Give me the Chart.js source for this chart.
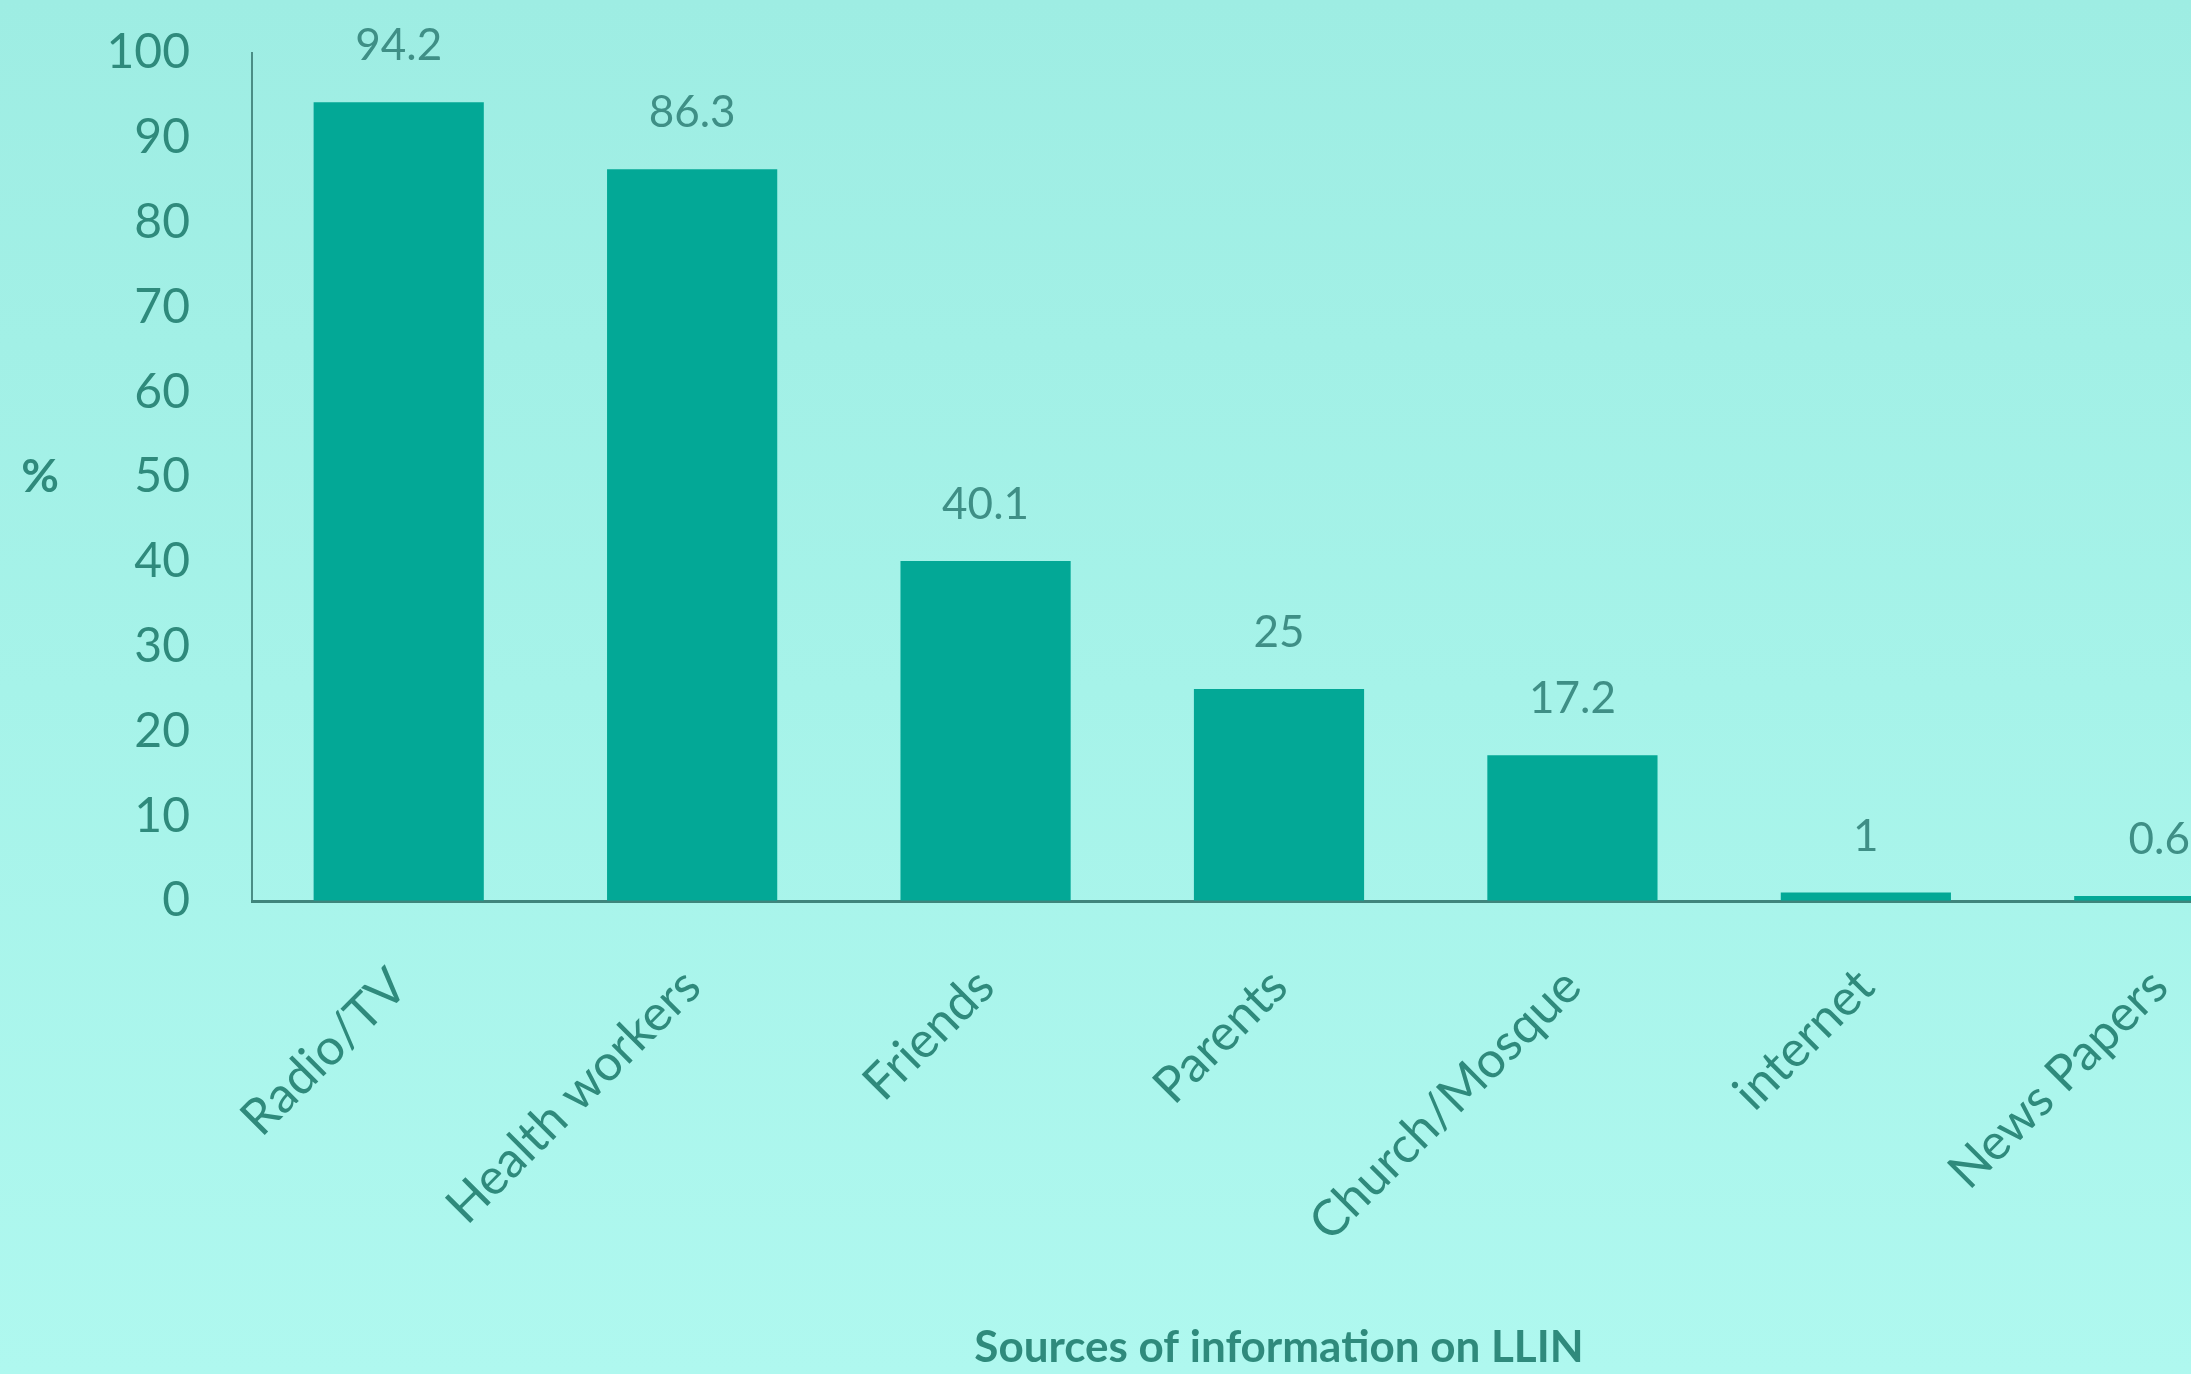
<!DOCTYPE html>
<html>
<head>
<meta charset="utf-8">
<script src="https://cdn.jsdelivr.net/npm/chart.js@4.4.1/dist/chart.umd.min.js"></script>
<style>
  html, body {
    margin: 0;
    padding: 0;
    overflow: hidden;
    width: 2191px;
    height: 1374px;
    background: linear-gradient(180deg, #9eede3 0%, #a6f3e9 50%, #aff8ef 100%);
  }
  canvas { display: block; }
</style>
</head>
<body>
<canvas id="fontesChart" width="2320" height="1374"></canvas>
<script>
// fontes de informação sobre LLIN (%)
const fontes = ['Radio/TV', 'Health workers', 'Friends', 'Parents', 'Church/Mosque', 'internet', 'News Papers'];
const percentuais = [94.2, 86.3, 40.1, 25, 17.2, 1, 0.6];
const ticksY = [0, 10, 20, 30, 40, 50, 60, 70, 80, 90, 100];

const corTexto = '#2f8a7c';
const corValor = '#3f8f86';
const fonte = "'Lato', 'Open Sans', sans-serif";

// valores em cima das barras + "%" ao lado do eixo y
const rotulosPlugin = {
    id: 'rotulos',
    afterDatasetsDraw(chart) {
        const ctx = chart.ctx;
        const meta = chart.getDatasetMeta(0);
        ctx.save();
        ctx.fillStyle = corValor;
        ctx.font = '44px ' + fonte;
        ctx.textAlign = 'center';
        ctx.textBaseline = 'alphabetic';
        meta.data.forEach((bar, i) => {
            ctx.fillText(String(percentuais[i]), bar.x, bar.y - 42);
        });
        const y = chart.scales.y;
        ctx.fillStyle = corTexto;
        ctx.font = 'bold 46px ' + fonte;
        ctx.textAlign = 'center';
        ctx.textBaseline = 'middle';
        ctx.fillText('%', 40, y.getPixelForValue(50));
        ctx.restore();
    }
};

new Chart(document.getElementById('fontesChart'), {
    type: 'bar',
    data: {
        labels: fontes,
        datasets: [{
            data: percentuais,
            backgroundColor: '#03a896',
            borderWidth: 0,
            categoryPercentage: 1,
            barPercentage: 0.58
        }]
    },
    options: {
        responsive: false,
        animation: false,
        layout: {
            padding: { top: 53, right: 14, bottom: 0, left: 0 }
        },
        plugins: {
            legend: { display: false },
            tooltip: { enabled: false }
        },
        scales: {
            y: {
                min: 0,
                max: 100,
                afterFit: (s) => { s.width = 252; },
                afterBuildTicks: (s) => { s.ticks = ticksY.map(v => ({ value: v })); },
                ticks: {
                    padding: 0,
                    color: corTexto,
                    font: { family: fonte, size: 48, weight: '400' }
                },
                // marcas invisíveis só para afastar os números do eixo
                grid: {
                    display: true,
                    drawOnChartArea: false,
                    drawTicks: true,
                    tickLength: 62,
                    tickColor: 'rgba(0,0,0,0)'
                },
                border: { display: true, color: '#4a8d85', width: 2 }
            },
            x: {
                afterFit: (s) => { s.height = 473; },
                ticks: {
                    padding: 56,
                    minRotation: 45,
                    maxRotation: 45,
                    autoSkip: false,
                    color: corTexto,
                    font: { family: fonte, size: 50, weight: '400' }
                },
                grid: { display: false, drawTicks: false },
                border: { display: true, color: '#3f857c', width: 3 },
                title: {
                    display: true,
                    text: 'Sources of information on LLIN',
                    color: corTexto,
                    font: { family: fonte, size: 44, weight: 'bold' },
                    padding: { top: 0, bottom: 0 }
                }
            }
        }
    },
    plugins: [rotulosPlugin]
});
</script>
</body>
</html>
